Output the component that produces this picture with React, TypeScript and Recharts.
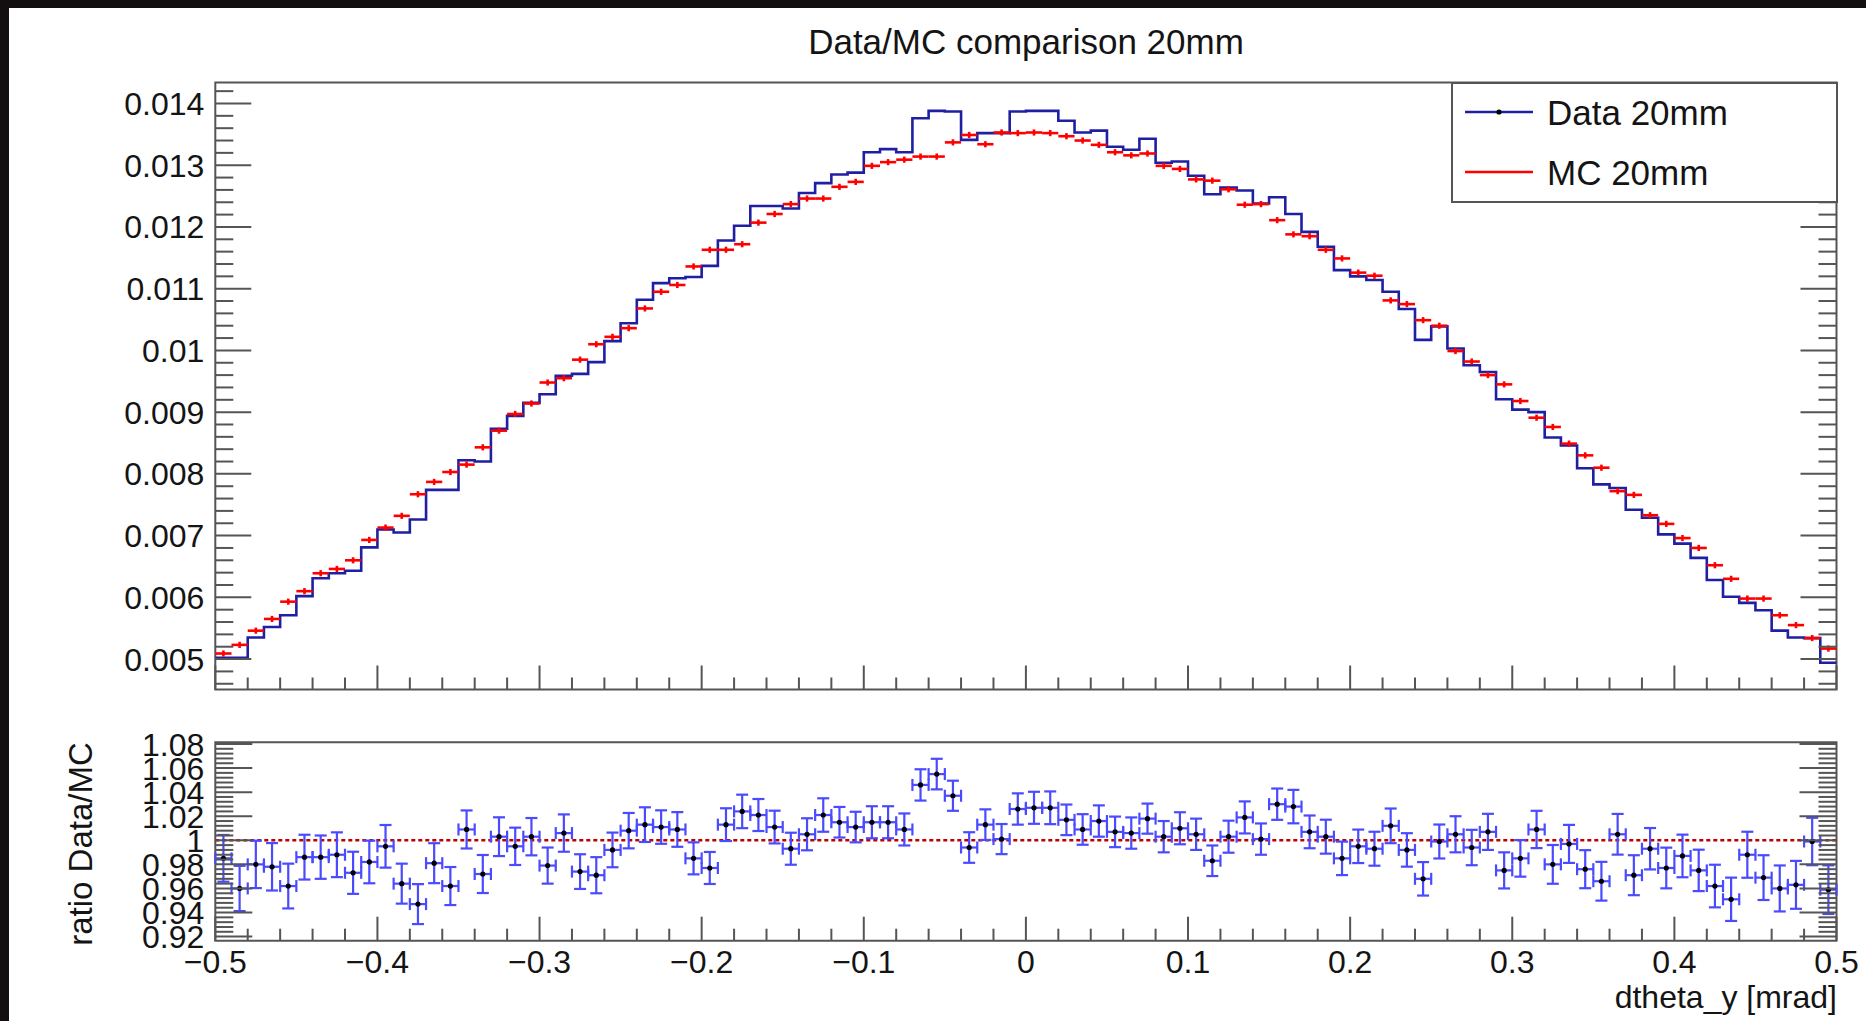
import React from "react";
import {
  ComposedChart,
  Line,
  Scatter,
  XAxis,
  YAxis,
  ErrorBar,
  ReferenceLine,
  ReferenceArea,
} from "recharts";

// 100 bins in dtheta_y from -0.5 to 0.5 mrad
const X_MIN = -0.5;
const X_MAX = 0.5;
const N_BINS = 100;
const BIN_W = (X_MAX - X_MIN) / N_BINS;

// Data 20mm (normalised histogram contents)
const dataHist = [
  0.00502, 0.00502, 0.00535, 0.00552, 0.00571, 0.00602, 0.00631, 0.00639, 0.00643, 0.00681,
  0.0071, 0.00705, 0.00726, 0.00774, 0.00774, 0.00822, 0.0082, 0.00873, 0.00894, 0.00915,
  0.00929, 0.00959, 0.00962, 0.00981, 0.01015, 0.01044, 0.01082, 0.01109, 0.01117, 0.01119,
  0.01137, 0.01178, 0.01202, 0.01234, 0.01234, 0.0123, 0.01255, 0.01271, 0.01285, 0.01288,
  0.01321, 0.01326, 0.01321, 0.01376, 0.01388, 0.01387, 0.01341, 0.01352, 0.01352, 0.01387,
  0.01388, 0.01388, 0.01372, 0.01353, 0.01356, 0.0133, 0.01325, 0.01343, 0.01304, 0.01306,
  0.01283, 0.01253, 0.01264, 0.01259, 0.01238, 0.01248, 0.01221, 0.01192, 0.01168, 0.0113,
  0.0112, 0.01114, 0.01095, 0.01067, 0.01017, 0.01039, 0.01003, 0.00976, 0.00965, 0.00921,
  0.00904, 0.009, 0.00859, 0.00846, 0.00809, 0.00783, 0.00777, 0.00742, 0.00729, 0.00702,
  0.00687, 0.00664, 0.00628, 0.00601, 0.00591, 0.00579, 0.00546, 0.00535, 0.00534, 0.00494,
];

// MC 20mm
const mcHist = [
  0.00509, 0.00523, 0.00546, 0.00565, 0.00593, 0.0061, 0.00639, 0.00646, 0.0066, 0.00693,
  0.00713, 0.00732, 0.00767, 0.00787, 0.00803, 0.00815, 0.00843, 0.0087, 0.00897, 0.00914,
  0.00948, 0.00955, 0.00985, 0.0101, 0.01022, 0.01036, 0.01068, 0.01095, 0.01106, 0.01136,
  0.01163, 0.01163, 0.01172, 0.01207, 0.01221, 0.01237, 0.01246, 0.01246, 0.01265, 0.01273,
  0.01299, 0.01305, 0.01309, 0.01314, 0.01314, 0.01337, 0.01349, 0.01334, 0.01353, 0.01352,
  0.01353, 0.01352, 0.01347, 0.0134, 0.01333, 0.01321, 0.01316, 0.01319, 0.01299, 0.01294,
  0.01277, 0.01275, 0.01261, 0.01236, 0.01237, 0.01211, 0.01188, 0.01185, 0.01163, 0.01149,
  0.01126, 0.01121, 0.01081, 0.01075, 0.01049, 0.0104, 0.00999, 0.00982, 0.0096, 0.00945,
  0.00918, 0.00891, 0.00876, 0.00849, 0.0083, 0.0081, 0.00772, 0.00766, 0.00733, 0.00719,
  0.00696, 0.0068, 0.00652, 0.0063, 0.00598, 0.00598, 0.00571, 0.00555, 0.00534, 0.00517,
];
const MC_ERR = 0.00005;

// ratio Data/MC and its errors
const ratioVals = [
  0.985, 0.96, 0.98, 0.978, 0.962, 0.986, 0.986, 0.988, 0.973, 0.982,
  0.995, 0.964, 0.947, 0.981, 0.962, 1.009, 0.972, 1.003, 0.995, 1.003,
  0.979, 1.006, 0.974, 0.971, 0.992, 1.008, 1.013, 1.011, 1.009, 0.985,
  0.977, 1.013, 1.024, 1.021, 1.011, 0.993, 1.005, 1.021, 1.015, 1.011,
  1.015, 1.015, 1.009, 1.046, 1.055, 1.037, 0.994, 1.013, 1.001, 1.026,
  1.027, 1.027, 1.017, 1.009, 1.016, 1.007, 1.006, 1.018, 1.003, 1.01,
  1.005, 0.983, 1.003, 1.019, 1.001, 1.03, 1.028, 1.007, 1.003, 0.985,
  0.995, 0.993, 1.012, 0.992, 0.968, 0.999, 1.005, 0.994, 1.007, 0.975,
  0.985, 1.009, 0.98, 0.997, 0.976, 0.966, 1.005, 0.971, 0.993, 0.977,
  0.987, 0.975, 0.962, 0.951, 0.988, 0.969, 0.96, 0.963, 0.999, 0.959,
];
const ratioErr = [
  0.0194, 0.0188, 0.0197, 0.0197, 0.0186, 0.0186, 0.018, 0.0186, 0.0175, 0.0177,
  0.0177, 0.0166, 0.0166, 0.0166, 0.0158, 0.0158, 0.0158, 0.0161, 0.0155, 0.0155,
  0.015, 0.0155, 0.0144, 0.015, 0.0144, 0.0147, 0.0144, 0.0139, 0.0144, 0.0133,
  0.0133, 0.0136, 0.0139, 0.0133, 0.0136, 0.0133, 0.0133, 0.0139, 0.0127, 0.0127,
  0.0133, 0.0133, 0.0133, 0.013, 0.0127, 0.0125, 0.0127, 0.0127, 0.0125, 0.013,
  0.0133, 0.0136, 0.0127, 0.0127, 0.013, 0.0127, 0.013, 0.0125, 0.013, 0.0133,
  0.013, 0.0127, 0.0133, 0.0133, 0.013, 0.013, 0.0139, 0.0136, 0.0141, 0.0139,
  0.0139, 0.0141, 0.0144, 0.0139, 0.0139, 0.0141, 0.015, 0.0147, 0.015, 0.015,
  0.0152, 0.0155, 0.0161, 0.0158, 0.0158, 0.0161, 0.0169, 0.0166, 0.0172, 0.0169,
  0.0177, 0.0172, 0.0177, 0.018, 0.0191, 0.0186, 0.0191, 0.0199, 0.0197, 0.0202,
];

// axis ticks and labels
const xMajor = [-0.5, -0.4, -0.3, -0.2, -0.1, 0, 0.1, 0.2, 0.3, 0.4, 0.5];
const xLabels = ["\u22120.5", "\u22120.4", "\u22120.3", "\u22120.2", "\u22120.1", "0", "0.1", "0.2", "0.3", "0.4", "0.5"];
const topMajor = [0.005, 0.006, 0.007, 0.008, 0.009, 0.01, 0.011, 0.012, 0.013, 0.014];
const topLabels = ["0.005", "0.006", "0.007", "0.008", "0.009", "0.01", "0.011", "0.012", "0.013", "0.014"];
const ratioMajor = [0.92, 0.94, 0.96, 0.98, 1, 1.02, 1.04, 1.06, 1.08];
const ratioLabels = ["0.92", "0.94", "0.96", "0.98", "1", "1.02", "1.04", "1.06", "1.08"];

const TOP_DOMAIN: [number, number] = [0.004507, 0.01434];
const RATIO_DOMAIN: [number, number] = [0.9166, 1.0814];

const subdivide = (majors: number[], n: number, lo: number, hi: number) => {
  const step = (majors[1] - majors[0]) / n;
  const out: number[] = [];
  for (let k = -n; k <= (majors.length - 1) * n + n; k++) {
    const v = Number((majors[0] + k * step).toFixed(7));
    if (v >= lo && v <= hi) out.push(v);
  }
  return out;
};

const xTicks = subdivide(xMajor, 5, X_MIN, X_MAX);
const topTicks = subdivide(topMajor, 5, TOP_DOMAIN[0], TOP_DOMAIN[1]);
const ratioTicks = subdivide(ratioMajor, 5, RATIO_DOMAIN[0], RATIO_DOMAIN[1]);

const stepRows = [...dataHist, dataHist[N_BINS - 1]].map((v, i) => ({ x: X_MIN + i * BIN_W, v }));
const mcRows = mcHist.map((y, i) => ({ x: X_MIN + (i + 0.5) * BIN_W, y, ex: BIN_W / 2, ey: MC_ERR }));
const ratioRows = ratioVals.map((y, i) => ({ x: X_MIN + (i + 0.5) * BIN_W, y, ex: BIN_W / 2, ey: ratioErr[i] }));

const FONT = "'Liberation Sans', Arial, Helvetica, sans-serif";
const AXIS = "#555";
const TXT = "#141414";

const findMajor = (v: number, majors: number[]) => majors.findIndex((m) => Math.abs(m - v) < 1e-7);

function yTick(majors: number[], labels: string[] | null, side: "left" | "right", majLen: number, minLen: number) {
  return (p: any) => {
    const v = p.payload.value;
    const idx = findMajor(v, majors);
    const len = idx >= 0 ? majLen : minLen;
    const dir = side === "left" ? 1 : -1;
    return (
      <g>
        <line x1={p.x} x2={p.x + dir * len} y1={p.y} y2={p.y} stroke={AXIS} strokeWidth={2} />
        {labels && idx >= 0 ? (
          <text x={p.x - 11} y={p.y} dy="0.36em" textAnchor="end" fontSize={32} fontFamily={FONT} fill={TXT}>
            {labels[idx]}
          </text>
        ) : null}
      </g>
    );
  };
}

function xTick(withLabels: boolean) {
  return (p: any) => {
    const v = p.payload.value;
    const idx = findMajor(v, xMajor);
    const len = idx >= 0 ? 24 : 12;
    return (
      <g>
        <line x1={p.x} x2={p.x} y1={p.y} y2={p.y - len} stroke={AXIS} strokeWidth={2} />
        {withLabels && idx >= 0 ? (
          <text x={p.x} y={p.y + 32} textAnchor="middle" fontSize={32} fontFamily={FONT} fill={TXT}>
            {xLabels[idx]}
          </text>
        ) : null}
      </g>
    );
  };
}

const noShape = () => <g />;
const dotShape = (p: any) => <circle cx={p.cx} cy={p.cy} r={2.6} fill="#000" />;

function TopPanel() {
  return (
    <ComposedChart width={1866} height={720} margin={{ top: 82.5, right: 9.5, left: 115.3, bottom: 20.5 }}>
      <XAxis
        type="number"
        dataKey="x"
        domain={[X_MIN, X_MAX]}
        ticks={xTicks}
        interval={0}
        height={10}
        tickSize={0}
        tickMargin={0}
        axisLine={false}
        tickLine={false}
        tick={xTick(false)}
        allowDataOverflow
      />
      <YAxis
        yAxisId="l"
        type="number"
        domain={TOP_DOMAIN}
        ticks={topTicks}
        interval={0}
        width={100}
        tickSize={0}
        tickMargin={0}
        axisLine={false}
        tickLine={false}
        tick={yTick(topMajor, topLabels, "left", 36, 18)}
        allowDataOverflow
      />
      <YAxis
        yAxisId="r"
        orientation="right"
        type="number"
        domain={TOP_DOMAIN}
        ticks={topTicks}
        interval={0}
        width={20}
        tickSize={0}
        tickMargin={0}
        axisLine={false}
        tickLine={false}
        tick={yTick(topMajor, null, "right", 36, 18)}
        allowDataOverflow
      />
      <ReferenceArea
        yAxisId="l"
        x1={X_MIN}
        x2={X_MAX}
        y1={TOP_DOMAIN[0]}
        y2={TOP_DOMAIN[1]}
        fill="none"
        stroke={AXIS}
        strokeWidth={2}
        ifOverflow="visible"
      />
      <Line
        yAxisId="l"
        data={stepRows}
        dataKey="v"
        type="stepAfter"
        stroke="#1f1fa3"
        strokeWidth={2.6}
        dot={false}
        isAnimationActive={false}
      />
      <Scatter yAxisId="l" data={mcRows} dataKey="y" shape={noShape} isAnimationActive={false}>
        <ErrorBar dataKey="ex" direction="x" width={0} stroke="#ff0000" strokeWidth={2.6} isAnimationActive={false} />
        <ErrorBar dataKey="ey" direction="y" width={0} stroke="#ff0000" strokeWidth={2.6} isAnimationActive={false} />
      </Scatter>
    </ComposedChart>
  );
}

function RatioPanel() {
  return (
    <ComposedChart width={1866} height={321} margin={{ top: 42.3, right: 9.5, left: 115.3, bottom: 30.3 }}>
      <XAxis
        type="number"
        dataKey="x"
        domain={[X_MIN, X_MAX]}
        ticks={xTicks}
        interval={0}
        height={50}
        tickSize={0}
        tickMargin={0}
        axisLine={false}
        tickLine={false}
        tick={xTick(true)}
        allowDataOverflow
      />
      <YAxis
        yAxisId="l"
        type="number"
        domain={RATIO_DOMAIN}
        ticks={ratioTicks}
        interval={0}
        width={100}
        tickSize={0}
        tickMargin={0}
        axisLine={false}
        tickLine={false}
        tick={yTick(ratioMajor, ratioLabels, "left", 37, 18)}
        allowDataOverflow
      />
      <YAxis
        yAxisId="r"
        orientation="right"
        type="number"
        domain={RATIO_DOMAIN}
        ticks={ratioTicks}
        interval={0}
        width={20}
        tickSize={0}
        tickMargin={0}
        axisLine={false}
        tickLine={false}
        tick={yTick(ratioMajor, null, "right", 37, 18)}
        allowDataOverflow
      />
      <ReferenceArea
        yAxisId="l"
        x1={X_MIN}
        x2={X_MAX}
        y1={RATIO_DOMAIN[0]}
        y2={RATIO_DOMAIN[1]}
        fill="none"
        stroke={AXIS}
        strokeWidth={2}
        ifOverflow="visible"
      />
      <ReferenceLine yAxisId="l" y={1} stroke="#c00000" strokeWidth={2.6} strokeDasharray="4 3" />
      <Scatter yAxisId="l" data={ratioRows} dataKey="y" shape={dotShape} isAnimationActive={false}>
        <ErrorBar dataKey="ex" direction="x" width={6} stroke="#4a4aff" strokeWidth={2.2} isAnimationActive={false} />
        <ErrorBar dataKey="ey" direction="y" width={6} stroke="#4a4aff" strokeWidth={2.2} isAnimationActive={false} />
      </Scatter>
    </ComposedChart>
  );
}

function LegendBox() {
  return (
    <svg width={387} height={121} style={{ position: "absolute", left: 1450.5, top: 81.5 }}>
      <rect x={1} y={1} width={385} height={119} fill="#fff" stroke={AXIS} strokeWidth={2} />
      <line x1={14} x2={82} y1={30} y2={30} stroke="#1f1fa3" strokeWidth={2.6} />
      <circle cx={48} cy={30} r={2.6} fill="#000" />
      <text x={96} y={30} dy="0.36em" fontSize={35} fontFamily={FONT} fill={TXT}>
        Data 20mm
      </text>
      <line x1={14} x2={82} y1={90} y2={90} stroke="#ff0000" strokeWidth={2.6} />
      <text x={96} y={90} dy="0.36em" fontSize={35} fontFamily={FONT} fill={TXT}>
        MC 20mm
      </text>
    </svg>
  );
}

export default function App() {
  const text: React.CSSProperties = { position: "absolute", fontFamily: FONT, color: TXT, whiteSpace: "nowrap" };
  return (
    <div style={{ position: "relative", width: 1866, height: 1021, background: "#130f10", overflow: "hidden" }}>
      <style>{"body{margin:0}"}</style>
      <div style={{ position: "absolute", left: 9, top: 8, right: 0, bottom: 0, background: "#fff" }} />
      <div style={{ ...text, left: 726, width: 600, top: 22, lineHeight: "40px", fontSize: 35, textAlign: "center" }}>
        Data/MC comparison 20mm
      </div>
      <div style={{ position: "absolute", left: 0, top: 0 }}>
        <TopPanel />
      </div>
      <div style={{ position: "absolute", left: 0, top: 700 }}>
        <RatioPanel />
      </div>
      <LegendBox />
      <div
        style={{
          ...text,
          left: 81 - 150,
          top: 844 - 20,
          width: 300,
          lineHeight: "40px",
          fontSize: 33,
          textAlign: "center",
          transform: "rotate(-90deg)",
        }}
      >
        ratio Data/MC
      </div>
      <div style={{ ...text, left: 1437, width: 400, top: 977, lineHeight: "40px", fontSize: 32, textAlign: "right" }}>
        dtheta_y [mrad]
      </div>
    </div>
  );
}
